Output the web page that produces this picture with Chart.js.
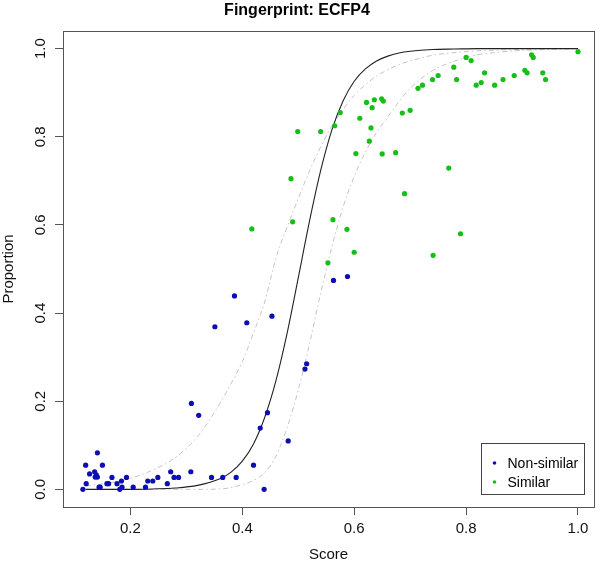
<!DOCTYPE html>
<html>
<head>
<meta charset="utf-8">
<script src="https://cdn.jsdelivr.net/npm/chart.js@4"></script>
<style>
  html, body { margin: 0; padding: 0; background: #fff; }
  #wrap { width: 600px; height: 566px; }
</style>
</head>
<body>
<div id="wrap"><canvas id="chart"></canvas></div>
<script>
// values
const nonSimilarScore = [0.115, 0.120, 0.121, 0.127, 0.136, 0.139, 0.141, 0.137, 0.141, 0.144, 0.146, 0.150,
  0.158, 0.161, 0.167, 0.176, 0.181, 0.184, 0.185, 0.193, 0.205, 0.227, 0.231, 0.240, 0.249, 0.266, 0.272,
  0.278, 0.286, 0.308, 0.309, 0.322, 0.345, 0.351, 0.365, 0.386, 0.389, 0.408, 0.420, 0.432, 0.439, 0.445,
  0.453, 0.482, 0.512, 0.515, 0.563, 0.588];
const nonSimilarProp = [0.000, 0.055, 0.013, 0.035, 0.040, 0.033, 0.028, 0.028, 0.083, 0.005, 0.005, 0.055,
  0.013, 0.013, 0.027, 0.013, 0.000, 0.019, 0.005, 0.027, 0.005, 0.005, 0.019, 0.019, 0.027, 0.013, 0.040,
  0.027, 0.027, 0.040, 0.195, 0.168, 0.027, 0.369, 0.027, 0.439, 0.027, 0.378, 0.055, 0.139, 0.000, 0.174,
  0.393, 0.110, 0.273, 0.285, 0.474, 0.483];

const similarScore = [0.417, 0.487, 0.490, 0.499, 0.540, 0.553, 0.562, 0.565, 0.575, 0.587, 0.600, 0.603,
  0.610, 0.622, 0.627, 0.630, 0.632, 0.636, 0.649, 0.652, 0.650, 0.674, 0.686, 0.690, 0.700, 0.714, 0.722,
  0.740, 0.741, 0.750, 0.769, 0.778, 0.783, 0.790, 0.800, 0.809, 0.818, 0.827, 0.833, 0.851, 0.866, 0.886,
  0.905, 0.909, 0.917, 0.920, 0.937, 0.942, 1.000];
const similarProp = [0.591, 0.705, 0.607, 0.812, 0.812, 0.514, 0.612, 0.825, 0.855, 0.590, 0.538, 0.762,
  0.842, 0.878, 0.790, 0.820, 0.866, 0.884, 0.886, 0.881, 0.761, 0.764, 0.854, 0.671, 0.860, 0.910, 0.917,
  0.930, 0.531, 0.939, 0.729, 0.958, 0.930, 0.580, 0.980, 0.973, 0.917, 0.923, 0.945, 0.917, 0.930, 0.939,
  0.951, 0.945, 0.986, 0.980, 0.945, 0.930, 0.993];

// fitted curve and its two bands
const curveScore = [0.12, 0.16, 0.20, 0.24, 0.28, 0.32, 0.36, 0.38, 0.40, 0.42, 0.44, 0.46, 0.48, 0.50,
  0.52, 0.54, 0.56, 0.58, 0.60, 0.62, 0.64, 0.66, 0.68, 0.70, 0.74, 0.78, 0.82, 0.86, 0.90, 0.95, 1.00];
const fitProp = [0.000, 0.000, 0.000, 0.001, 0.003, 0.009, 0.024, 0.039, 0.064, 0.103, 0.163, 0.246, 0.354,
  0.480, 0.608, 0.723, 0.815, 0.881, 0.926, 0.954, 0.972, 0.983, 0.990, 0.994, 0.998, 0.999, 1.000, 1.000,
  1.000, 1.000, 1.000];
const upperProp = [0.008, 0.014, 0.025, 0.044, 0.072, 0.120, 0.195, 0.240, 0.290, 0.355, 0.425, 0.525, 0.595,
  0.660, 0.722, 0.777, 0.824, 0.862, 0.894, 0.918, 0.938, 0.952, 0.964, 0.972, 0.985, 0.991, 0.995, 0.997,
  0.998, 0.999, 1.000];
const lowerProp = [0.000, 0.000, 0.000, 0.000, 0.000, 0.000, 0.001, 0.004, 0.011, 0.020, 0.038, 0.075, 0.140,
  0.225, 0.330, 0.445, 0.550, 0.640, 0.710, 0.765, 0.810, 0.845, 0.880, 0.910, 0.950, 0.972, 0.986, 0.992,
  0.996, 0.998, 1.000];

const seriesNames = ["Non-similar", "Similar"];
const blue = "#0c0cb8";
const green = "#18be18";
const bandGray = "#c4c4c4";

function pairs(xs, ys) {
  return xs.map((x, i) => ({ x: x, y: ys[i] }));
}

const fontFamily = "'Liberation Sans', Arial, sans-serif";

// R-style box round the plot region
const boxPlugin = {
  id: "box",
  afterDraw(chart) {
    const a = chart.chartArea;
    const ctx = chart.ctx;
    ctx.save();
    ctx.strokeStyle = "#555";
    ctx.lineWidth = 1;
    ctx.strokeRect(Math.round(a.left) + 0.5, Math.round(a.top) + 0.5,
      Math.round(a.right - a.left), Math.round(a.bottom - a.top));
    ctx.restore();
  },
};

// legend drawn in the lower right corner of the plot region
const cornerLegend = {
  id: "cornerLegend",
  afterDraw(chart) {
    const a = chart.chartArea;
    const ctx = chart.ctx;
    const w = 103, h = 51;
    const x0 = Math.round(a.right - 10 - w) + 0.5;
    const y0 = Math.round(a.bottom - 13 - h) + 0.5;
    ctx.save();
    ctx.fillStyle = "#fff";
    ctx.fillRect(x0, y0, w, h);
    ctx.strokeStyle = "#444";
    ctx.lineWidth = 1;
    ctx.strokeRect(x0, y0, w, h);
    ctx.font = "14px " + fontFamily;
    ctx.textBaseline = "middle";
    [0, 1].forEach((i) => {
      const ds = chart.data.datasets[i];
      const yy = y0 + 19.5 + i * 19;
      ctx.fillStyle = ds.backgroundColor;
      ctx.beginPath();
      ctx.arc(x0 + 13, yy, 1.8, 0, Math.PI * 2);
      ctx.fill();
      ctx.fillStyle = "#000";
      ctx.fillText(ds.label, x0 + 26, yy + 1);
    });
    ctx.restore();
  },
};

function makeChart(ctx) {
  const config = {
    type: "scatter",
    data: {
      datasets: [
        {
          label: seriesNames[0],
          data: pairs(nonSimilarScore, nonSimilarProp),
          backgroundColor: blue,
          borderWidth: 0,
          pointRadius: 2.6,
        },
        {
          label: seriesNames[1],
          data: pairs(similarScore, similarProp),
          backgroundColor: green,
          borderWidth: 0,
          pointRadius: 2.6,
        },
        {
          label: "fit",
          data: pairs(curveScore, fitProp),
          showLine: true,
          borderColor: "#222",
          borderWidth: 1.1,
          pointRadius: 0,
          cubicInterpolationMode: "monotone",
        },
        {
          label: "upper",
          data: pairs(curveScore, upperProp),
          showLine: true,
          borderColor: bandGray,
          borderWidth: 1,
          borderDash: [5, 3, 1.5, 3],
          pointRadius: 0,
          cubicInterpolationMode: "monotone",
        },
        {
          label: "lower",
          data: pairs(curveScore, lowerProp),
          showLine: true,
          borderColor: bandGray,
          borderWidth: 1,
          borderDash: [5, 3, 1.5, 3],
          pointRadius: 0,
          cubicInterpolationMode: "monotone",
        },
      ],
    },
    options: {
      responsive: true,
      maintainAspectRatio: false,
      animation: false,
      layout: { padding: { left: 0, right: 6, top: 0, bottom: 0 } },
      plugins: {
        legend: { display: false },
        tooltip: { enabled: false },
        title: {
          display: true,
          text: "Fingerprint: ECFP4",
          color: "#000",
          font: { family: fontFamily, size: 16, weight: "bold" },
          padding: { top: 1, bottom: 10.8 },
        },
      },
      scales: {
        x: {
          type: "linear",
          min: 0.0795,
          max: 1.0286,
          border: { display: false },
          grid: { display: true, drawOnChartArea: false, drawTicks: true, tickLength: 8, color: "#555" },
          ticks: {
            stepSize: 0.2,
            includeBounds: false,
            color: "#111",
            padding: 5,
            maxRotation: 0,
            font: { family: fontFamily, size: 15 },
            callback: (v) => v.toFixed(1),
          },
          title: {
            display: true,
            text: "Score",
            color: "#111",
            font: { family: fontFamily, size: 15 },
            padding: { top: 0, bottom: 2 },
          },
          afterFit(scale) { scale.height = 59; },
        },
        y: {
          type: "linear",
          min: -0.04,
          max: 1.04,
          border: { display: false },
          grid: { display: true, drawOnChartArea: false, drawTicks: true, tickLength: 8, color: "#555" },
          ticks: {
            stepSize: 0.2,
            includeBounds: false,
            color: "#111",
            padding: 4,
            minRotation: 90,
            maxRotation: 90,
            crossAlign: "center",
            font: { family: fontFamily, size: 15 },
            callback: (v) => v.toFixed(1),
          },
          title: {
            display: true,
            text: "Proportion",
            color: "#111",
            font: { family: fontFamily, size: 15 },
            padding: { top: 0, bottom: 0 },
          },
          afterFit(scale) { scale.width = 63; },
        },
      },
    },
    plugins: [boxPlugin, cornerLegend],
  };
  return new Chart(ctx, config);
}

makeChart(document.getElementById("chart"));
</script>
</body>
</html>
